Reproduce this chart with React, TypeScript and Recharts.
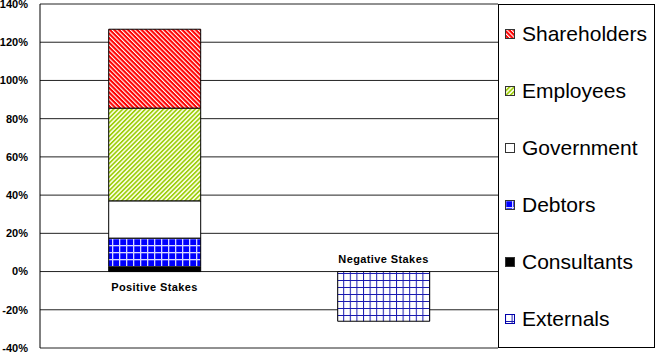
import { BarChart, Bar, XAxis, YAxis, CartesianGrid, Legend, ReferenceDot } from "recharts"

const categories = ["Positive Stakes", "Negative Stakes"]
const consultants = [2.5, 0]
const debtors = [15, 0]
const government = [19.5, 0]
const employees = [48.5, 0]
const shareholders = [41.3, 0]
const externals = [0, -26]
const yTicks = [-40, -20, 0, 20, 40, 60, 80, 100, 120, 140]

const data = categories.map((name, i) => ({
    name,
    consultants: consultants[i],
    debtors: debtors[i],
    government: government[i],
    employees: employees[i],
    shareholders: shareholders[i],
    externals: externals[i],
}))

const font = "'Liberation Sans', Arial, sans-serif"

// stacking order, bottom first
const series = [
    { key: "consultants", name: "Consultants", fill: "#000000" },
    { key: "debtors", name: "Debtors", fill: "url(#debtorsGrid)" },
    { key: "government", name: "Government", fill: "#ffffff" },
    { key: "employees", name: "Employees", fill: "url(#employeesStripes)" },
    { key: "shareholders", name: "Shareholders", fill: "url(#shareholdersStripes)" },
    { key: "externals", name: "Externals", fill: "url(#externalsGrid)" },
]

const legendOrder = ["shareholders", "employees", "government", "debtors", "consultants", "externals"]

const LegendBox = () => (
    <div
        style={{
            width: 157,
            height: 344,
            boxSizing: "border-box",
            border: "1px solid #000",
            background: "#fff",
            display: "flex",
            flexDirection: "column",
            justifyContent: "space-around",
            fontFamily: font,
            fontSize: 21,
            color: "#000",
        }}
    >
        {legendOrder.map((k) => {
            const s = series.find((d) => d.key === k)!
            return (
                <div key={k} style={{ display: "flex", alignItems: "center", lineHeight: "24px" }}>
                    <svg width={10} height={10} style={{ marginLeft: 6, marginRight: 7 }}>
                        <rect x={0.5} y={0.5} width={9} height={9} fill={s.fill} stroke={k === "externals" ? "#0000aa" : "#333"} strokeWidth={1} />
                    </svg>
                    <span>{s.name}</span>
                </div>
            )
        })}
    </div>
)

export default function App() {
    return (
        <div style={{ position: "absolute", left: 0, top: 0, width: 660, height: 354, background: "#fff" }}>
            <BarChart
                width={660}
                height={354}
                data={data}
                stackOffset="sign"
                barCategoryGap="30%"
                margin={{ top: 4, right: 5, bottom: 6, left: 0 }}
            >
                <defs>
                    <pattern id="shareholdersStripes" width={3.2} height={3.2} patternUnits="userSpaceOnUse" patternTransform="rotate(-45)">
                        <rect width={3.2} height={3.2} fill="#ff0000" />
                        <rect width={1.1} height={3.2} fill="#ffffff" />
                    </pattern>
                    <pattern id="employeesStripes" width={3.2} height={3.2} patternUnits="userSpaceOnUse" patternTransform="rotate(45)">
                        <rect width={3.2} height={3.2} fill="#f8fce0" />
                        <rect width={1.5} height={3.2} fill="#99cc00" />
                    </pattern>
                    <pattern id="debtorsGrid" width={7} height={7} patternUnits="userSpaceOnUse">
                        <rect width={7} height={7} fill="#0000ff" />
                        <rect width={1.3} height={7} fill="#d8d8ff" />
                        <rect width={7} height={1.3} fill="#d8d8ff" />
                    </pattern>
                    <pattern id="externalsGrid" width={6.6} height={7} patternUnits="userSpaceOnUse">
                        <rect width={6.6} height={7} fill="#ffffff" />
                        <rect width={1} height={7} fill="#1a1ab0" />
                        <rect width={6.6} height={1} fill="#1a1ab0" />
                    </pattern>
                </defs>
                <CartesianGrid horizontal vertical={false} stroke="#222" strokeOpacity={1} />
                <XAxis dataKey="name" hide />
                <YAxis
                    domain={[-40, 140]}
                    ticks={yTicks}
                    width={40}
                    interval={0}
                    tickFormatter={(v) => `${v}%`}
                    tickLine={false}
                    tickSize={8}
                    tickMargin={4}
                    axisLine={{ stroke: "#000" }}
                    tick={{ fill: "#000", fontSize: 11, fontWeight: "bold", fontFamily: font }}
                />
                <Legend layout="vertical" align="right" verticalAlign="top" content={<LegendBox />} />
                {series.map((s) => (
                    <Bar
                        key={s.key}
                        dataKey={s.key}
                        name={s.name}
                        stackId="stakes"
                        fill={s.fill}
                        stroke="#000"
                        strokeWidth={1}
                        isAnimationActive={false}
                    />
                ))}
                {categories.map((name, i) => (
                    <ReferenceDot
                        key={name}
                        x={name}
                        y={0}
                        r={0}
                        fill="none"
                        stroke="none"
                        label={{
                            value: name,
                            position: externals[i] < 0 ? "top" : "bottom",
                            offset: externals[i] < 0 ? 9 : 12,
                            fill: "#000",
                            fontSize: 11,
                            fontWeight: "bold",
                            fontFamily: font,
                            letterSpacing: 0.4,
                        }}
                    />
                ))}
            </BarChart>
        </div>
    )
}
